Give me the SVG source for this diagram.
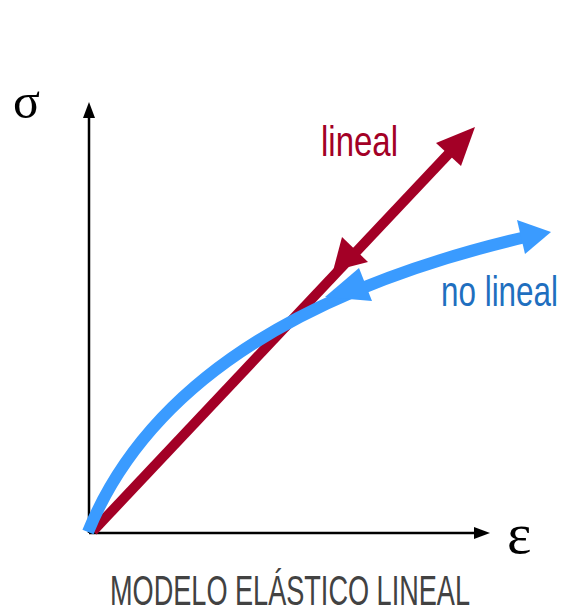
<svg xmlns="http://www.w3.org/2000/svg" width="564" height="613" viewBox="0 0 564 613">
<style>
.axis{stroke:#000;stroke-width:2.5;fill:none}
.red{stroke:#A30026;stroke-width:10;fill:none}
.blue{stroke:#3A9BFF;stroke-width:12;fill:none}
.lbl{font-family:"Liberation Sans",Arial,sans-serif}
.sym{font-family:"Liberation Serif","Times New Roman",serif;fill:#000}
</style>
<rect width="564" height="613" fill="#fff"/>
<g id="axes">
<line class="axis" x1="89" y1="533" x2="89" y2="115"/>
<polygon points="89,102 83,118 95,118" fill="#000"/>
<line class="axis" x1="89" y1="533" x2="476" y2="533"/>
<polygon points="490,533 474,527 474,539" fill="#000"/>
</g>
<g id="connectors">
<g id="linear">
<line class="red" x1="93" y1="531" x2="455" y2="147"/>
<polygon points="475,127 436,143 461,166" fill="#A30026"/>
<polygon points="333,271 342,237 368,262" fill="#A30026"/>
</g>
<g id="nonlinear">
<path class="blue" d="M88,532 Q175,318 530,236"/>
<polygon points="551,232 517,220 525,254" fill="#3A9BFF"/>
<polygon points="325,297 359,268 372,301" fill="#3A9BFF"/>
</g>
</g>
<g id="labels">
<text class="sym" x="13" y="118" font-size="50">σ</text>
<text class="sym" x="507" y="553" font-size="58">ε</text>
<text class="lbl" x="321" y="156" font-size="42" fill="#A30026" textLength="77" lengthAdjust="spacingAndGlyphs">lineal</text>
<text class="lbl" x="441" y="306" font-size="42" fill="#1F6FBF" textLength="117" lengthAdjust="spacingAndGlyphs">no lineal</text>
<text class="lbl" x="110" y="605" font-size="42" fill="#424242" textLength="360" lengthAdjust="spacingAndGlyphs">MODELO ELÁSTICO LINEAL</text>
</g>
</svg>
